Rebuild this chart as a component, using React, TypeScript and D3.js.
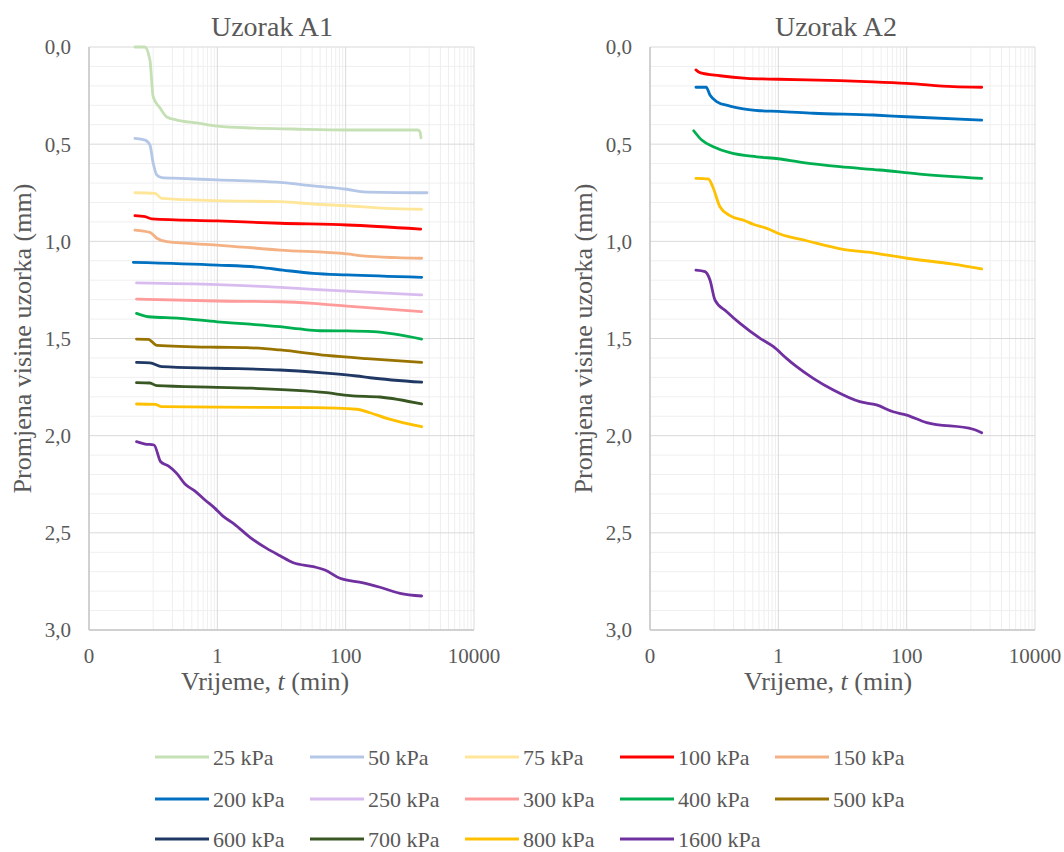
import React from "react";
import * as d3 from "d3";

type Pt = [number, number];

// ---- Data: [time (min), settlement (mm)] ----
const A1_25: Pt[] = [[0.052,0.0],[0.074,0.0],[0.089,0.067],[0.1,0.256],[0.128,0.314],[0.163,0.36],[0.233,0.376],[0.477,0.391],[1,0.407],[3.6,0.417],[15.1,0.422],[105,0.427],[1341,0.427],[1440,0.437],[1493,0.468]];
const A1_50: Pt[] = [[0.052,0.47],[0.075,0.479],[0.089,0.504],[0.1,0.597],[0.114,0.659],[0.136,0.672],[0.262,0.676],[1,0.684],[10.5,0.698],[31,0.715],[105,0.732],[186,0.745],[1850,0.75]];
const A1_75: Pt[] = [[0.052,0.75],[0.107,0.753],[0.136,0.779],[1,0.791],[9.5,0.796],[31,0.808],[105,0.817],[440,0.83],[1530,0.835]];
const A1_100: Pt[] = [[0.052,0.868],[0.075,0.873],[0.095,0.884],[1,0.895],[9.5,0.907],[105,0.916],[1476,0.937]];
const A1_150: Pt[] = [[0.052,0.942],[0.089,0.954],[0.114,0.984],[0.163,1.002],[1,1.019],[9.5,1.045],[105,1.065],[186,1.075],[624,1.084],[1530,1.087]];
const A1_200: Pt[] = [[0.049,1.108],[1,1.122],[4.63,1.134],[10.5,1.148],[31,1.165],[105,1.173],[1530,1.185]];
const A1_250: Pt[] = [[0.055,1.214],[1,1.223],[9.5,1.237],[31,1.247],[105,1.256],[1530,1.276]];
const A1_300: Pt[] = [[0.055,1.297],[1,1.307],[9.5,1.311],[31,1.319],[105,1.333],[1530,1.362]];
const A1_400: Pt[] = [[0.055,1.371],[0.084,1.388],[0.262,1.396],[1,1.414],[2.87,1.425],[9.5,1.439],[19.4,1.451],[39.8,1.46],[105,1.461],[267,1.465],[1530,1.503]];
const A1_500: Pt[] = [[0.055,1.503],[0.084,1.504],[0.114,1.535],[1,1.545],[2.87,1.547],[9.5,1.559],[50.6,1.587],[213,1.604],[1530,1.623]];
const A1_600: Pt[] = [[0.055,1.623],[0.089,1.625],[0.136,1.645],[1,1.653],[9.5,1.662],[39.8,1.676],[149,1.693],[240,1.702],[1530,1.725]];
const A1_700: Pt[] = [[0.055,1.727],[0.089,1.729],[0.114,1.743],[1,1.751],[2.87,1.755],[50.6,1.779],[117,1.794],[343,1.801],[1530,1.837]];
const A1_800: Pt[] = [[0.055,1.837],[0.107,1.839],[0.136,1.851],[1,1.853],[31,1.856],[149,1.864],[240,1.882],[436,1.911],[1530,1.954]];
const A1_1600: Pt[] = [[0.055,2.031],[0.075,2.043],[0.103,2.048],[0.131,2.134],[0.172,2.156],[0.233,2.194],[0.313,2.249],[0.449,2.285],[0.642,2.331],[0.92,2.374],[1.21,2.413],[1.84,2.455],[3.23,2.523],[5.88,2.58],[9.5,2.618],[15.3,2.654],[31.3,2.674],[47.6,2.691],[81.6,2.734],[188,2.757],[343,2.78],[703,2.811],[1530,2.825]];

const A2_100: Pt[] = [[0.052,0.118],[0.06,0.132],[0.123,0.148],[0.321,0.161],[1,0.166],[9.1,0.173],[30,0.179],[100,0.187],[533,0.204],[1476,0.207]];
const A2_200: Pt[] = [[0.052,0.207],[0.075,0.207],[0.086,0.247],[0.109,0.281],[0.176,0.304],[0.284,0.319],[0.52,0.328],[1,0.331],[3.5,0.341],[30,0.35],[100,0.359],[1476,0.376]];
const A2_400: Pt[] = [[0.048,0.431],[0.064,0.479],[0.097,0.513],[0.176,0.544],[0.46,0.565],[1,0.575],[2.17,0.592],[9.1,0.616],[38,0.633],[160,0.654],[1476,0.676]];
const A2_800: Pt[] = [[0.052,0.676],[0.081,0.679],[0.095,0.719],[0.123,0.822],[0.176,0.868],[0.302,0.894],[0.406,0.912],[0.66,0.933],[1.06,0.962],[2.76,0.997],[10.2,1.041],[30,1.059],[100,1.087],[533,1.117],[1476,1.142]];
const A2_1600: Pt[] = [[0.052,1.148],[0.072,1.156],[0.086,1.199],[0.103,1.302],[0.157,1.362],[0.253,1.422],[0.52,1.499],[0.84,1.542],[1.34,1.602],[1.93,1.645],[3.5,1.705],[7.2,1.765],[18.6,1.825],[33.9,1.842],[61.6,1.877],[100,1.894],[205,1.933],[1090,1.967],[1476,1.985]];

const LOADS = ["25 kPa","50 kPa","75 kPa","100 kPa","150 kPa","200 kPa","250 kPa","300 kPa","400 kPa","500 kPa","600 kPa","700 kPa","800 kPa","1600 kPa"];
const COLORS = ["#C5E0B4","#B4C7E7","#FFE699","#FF0000","#F4B183","#0070C0","#D9BCEF","#FF9B9B","#00B050","#997300","#203864","#385723","#FFC000","#7030A0"];

const PANEL1_SERIES: { load: string; data: Pt[] }[] = [
  { load: "25 kPa", data: A1_25 }, { load: "50 kPa", data: A1_50 }, { load: "75 kPa", data: A1_75 },
  { load: "100 kPa", data: A1_100 }, { load: "150 kPa", data: A1_150 }, { load: "200 kPa", data: A1_200 },
  { load: "250 kPa", data: A1_250 }, { load: "300 kPa", data: A1_300 }, { load: "400 kPa", data: A1_400 },
  { load: "500 kPa", data: A1_500 }, { load: "600 kPa", data: A1_600 }, { load: "700 kPa", data: A1_700 },
  { load: "800 kPa", data: A1_800 }, { load: "1600 kPa", data: A1_1600 },
];
const PANEL2_SERIES: { load: string; data: Pt[] }[] = [
  { load: "100 kPa", data: A2_100 }, { load: "200 kPa", data: A2_200 }, { load: "400 kPa", data: A2_400 },
  { load: "800 kPa", data: A2_800 }, { load: "1600 kPa", data: A2_1600 },
];

const X_TICKS = [0.01, 1, 100, 10000];
const X_TICK_LABELS = ["0", "1", "100", "10000"];
const Y_TICKS = [0, 0.5, 1, 1.5, 2, 2.5, 3];

const FONT = '"Liberation Serif", "DejaVu Serif", serif';
const TEXT = "#595959";
const txt = (size: number): React.CSSProperties => ({ fontFamily: FONT, fontSize: size + "px", fill: TEXT });

const colorOf = (load: string) => COLORS[LOADS.indexOf(load)];

function Panel({ x0, x1, title, centerX, xTitleX, series }: { x0: number; x1: number; title: string; centerX: number; xTitleX: number; series: { load: string; data: Pt[] }[] }) {
  const y0 = 47, y1 = 630;
  const x = d3.scaleLog().domain([0.01, 10000]).range([x0, x1]);
  const y = d3.scaleLinear().domain([0, 3]).range([y0, y1]);
  const minorX: number[] = [];
  [0.1, 10, 1000].forEach((b) => { for (let n = 1; n <= 9; n++) minorX.push(b * n); });
  const minorY = d3.range(0, 31).map((i) => i / 10).filter((v) => Math.round(v * 10) % 5 !== 0);
  const line = d3.line<Pt>().x((d) => x(d[0])).y((d) => y(d[1])).curve(d3.curveMonotoneX);
  return (
    <g>
      <text x={centerX} y={36} textAnchor="middle" style={txt(28)}>{title}</text>
      {minorY.map((v) => <line key={"my" + v} x1={x0} x2={x1} y1={y(v)} y2={y(v)} stroke="#EFEFEF" strokeWidth={1} />)}
      {minorX.map((v) => <line key={"mx" + v} x1={x(v)} x2={x(v)} y1={y0} y2={y1} stroke="#EFEFEF" strokeWidth={1} />)}
      {Y_TICKS.map((v) => <line key={"gy" + v} x1={x0} x2={x1} y1={y(v)} y2={y(v)} stroke="#D9D9D9" strokeWidth={1} />)}
      {X_TICKS.map((v) => <line key={"gx" + v} x1={x(v)} x2={x(v)} y1={y0} y2={y1} stroke="#D9D9D9" strokeWidth={1} />)}
      <line x1={x0} x2={x0} y1={y0} y2={y1} stroke="#C8C8C8" strokeWidth={1.5} />
      <line x1={x0} x2={x1} y1={y1} y2={y1} stroke="#C8C8C8" strokeWidth={1.5} />
      {series.map((s) => (
        <path key={s.load} d={line(s.data) || ""} fill="none" stroke={colorOf(s.load)} strokeWidth={2.8} strokeLinejoin="round" strokeLinecap="round" />
      ))}
      {Y_TICKS.map((v) => (
        <text key={"ty" + v} x={x0 - 18} y={y(v)} dy="0.35em" textAnchor="end" style={txt(21)}>{v.toFixed(1).replace(".", ",")}</text>
      ))}
      {X_TICKS.map((v, i) => (
        <text key={"tx" + v} x={x(v)} y={663} textAnchor="middle" style={txt(21)}>{X_TICK_LABELS[i]}</text>
      ))}
      <text x={xTitleX} y={690} textAnchor="middle" style={txt(26)}>
        Vrijeme, <tspan style={{ fontStyle: "italic" }}>t</tspan> (min)
      </text>
      <text transform={`translate(${x0 - 58},${(y0 + y1) / 2}) rotate(-90)`} textAnchor="middle" style={txt(26)}>Promjena visine uzorka (mm)</text>
    </g>
  );
}

export default function App() {
  const legendX = [155, 310, 465, 620, 775];
  const legendY = [757, 799, 839];
  return (
    <svg width={1064} height={852} style={{ position: "absolute", left: 0, top: 0, background: "#fff" }}>
      <rect width={1064} height={852} fill="#fff" />
      <Panel x0={89} x1={474} title="Uzorak A1" centerX={272} xTitleX={265} series={PANEL1_SERIES} />
      <Panel x0={650} x1={1035} title="Uzorak A2" centerX={836} xTitleX={828} series={PANEL2_SERIES} />
      {LOADS.map((l, i) => {
        const lx = legendX[i % 5];
        const ly = legendY[Math.floor(i / 5)];
        return (
          <g key={l}>
            <line x1={lx} x2={lx + 54} y1={ly} y2={ly} stroke={COLORS[i]} strokeWidth={3} />
            <text x={lx + 58} y={ly} dy="0.35em" style={txt(22)}>{l}</text>
          </g>
        );
      })}
    </svg>
  );
}
